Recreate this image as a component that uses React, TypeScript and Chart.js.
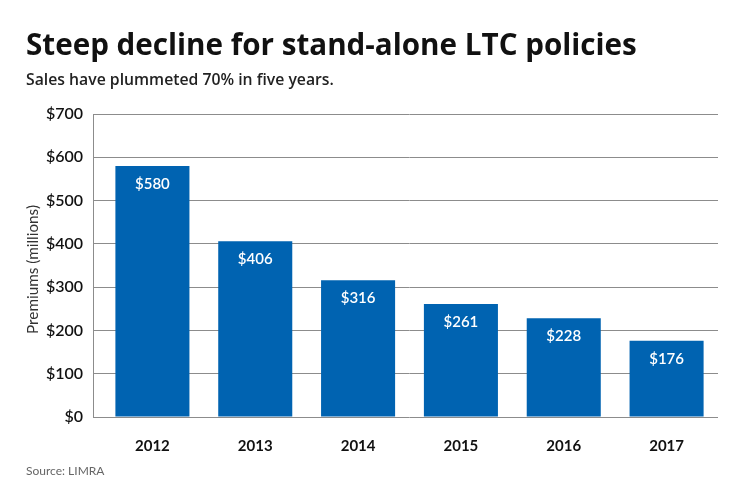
import React, { useEffect, useRef } from "react";
import { Chart, registerables } from "chart.js";

Chart.register(...registerables);

const categories = ["2012", "2013", "2014", "2015", "2016", "2017"];
const premiums = [580, 406, 316, 261, 228, 176];
const yTicks = [0, 100, 200, 300, 400, 500, 600, 700];

const titleText = "Steep decline for stand-alone LTC policies";
const subtitleText = "Sales have plummeted 70% in five years.";
const sourceText = "Source: LIMRA";
const yAxisTitle = "Premiums (millions)";

const FONT = "Lato, 'Open Sans', sans-serif";
const HEAD_FONT = "'Open Sans', Lato, sans-serif";
const BAR_COLOR = "#0063B1";
const GRID_COLOR = "#8c8c8c";

function fitText(ctx: any, text: string, weight: string, family: string, base: number, width: number) {
  ctx.font = `${weight} ${base}px ${family}`;
  const w = ctx.measureText(text).width;
  const size = (base * width) / w;
  ctx.font = `${weight} ${size.toFixed(2)}px ${family}`;
}

const decorPlugin = {
  id: "decor",
  afterDraw(chart: any) {
    const ctx = chart.ctx;
    const area = chart.chartArea;
    ctx.save();
    // left axis line
    ctx.strokeStyle = GRID_COLOR;
    ctx.lineWidth = 1;
    ctx.beginPath();
    ctx.moveTo(area.left - 8 + 0.5, area.top);
    ctx.lineTo(area.left - 8 + 0.5, area.bottom + 0.5);
    ctx.stroke();

    // title
    ctx.fillStyle = "#111";
    ctx.textAlign = "left";
    ctx.textBaseline = "alphabetic";
    fitText(ctx, titleText, "bold", HEAD_FONT, 30, 611);
    ctx.fillText(titleText, 26, 55);
    fitText(ctx, subtitleText, "600", HEAD_FONT, 15, 308);
    ctx.fillStyle = "#222";
    ctx.fillText(subtitleText, 26, 85);
    ctx.font = `12px ${FONT}`;
    ctx.fillStyle = "#666";
    ctx.fillText(sourceText, 26, 475);

    // y axis title
    ctx.save();
    ctx.translate(33, (area.top + area.bottom) / 2 + 4);
    ctx.rotate(-Math.PI / 2);
    ctx.textAlign = "center";
    ctx.textBaseline = "middle";
    fitText(ctx, yAxisTitle, "normal", FONT, 14, 129);
    ctx.fillStyle = "#333";
    ctx.fillText(yAxisTitle, 0, 0);
    ctx.restore();

    // data labels
    const meta = chart.getDatasetMeta(0);
    ctx.font = `600 15px ${FONT}`;
    ctx.fillStyle = "#ffffff";
    ctx.textAlign = "center";
    ctx.textBaseline = "middle";
    meta.data.forEach((bar: any, i: number) => {
      const v = chart.data.datasets[0].data[i];
      ctx.fillText("$" + v, bar.x, bar.y + 18);
    });
    ctx.restore();
  },
};

export default function App() {
  const ref = useRef<HTMLCanvasElement>(null);
  useEffect(() => {
    if (!ref.current) return;
    const chart = new Chart(ref.current, {
      type: "bar",
      data: {
        labels: categories,
        datasets: [
          {
            data: premiums,
            backgroundColor: BAR_COLOR,
            borderWidth: 0,
            barPercentage: 0.72,
            categoryPercentage: 1,
          },
        ],
      },
      options: {
        animation: false,
        responsive: false,
        devicePixelRatio: 1,
        layout: { padding: { top: 114, right: 22, bottom: 45, left: 0 } },
        plugins: {
          legend: { display: false },
          tooltip: { enabled: false },
          title: { display: false },
        },
        scales: {
          x: {
            grid: { display: false },
            border: { display: false },
            ticks: {
              color: "#111",
              font: { family: FONT, size: 15, weight: "bold" },
              padding: 12,
            },
            afterFit: (s: any) => {
              s.height = 40;
            },
          },
          y: {
            min: 0,
            max: 700,
            afterBuildTicks: (s: any) => {
              s.ticks = yTicks.map((v) => ({ value: v }));
            },
            grid: {
              color: GRID_COLOR,
              lineWidth: 1,
              drawTicks: true,
              tickLength: 8,
              tickColor: GRID_COLOR,
            },
            border: { display: false },
            ticks: {
              color: "#111",
              font: { family: FONT, size: 16, weight: "600" },
              padding: 10,
              callback: (v: any) => "$" + v,
            },
            afterFit: (s: any) => {
              s.width = 101;
            },
          },
        },
      },
      plugins: [decorPlugin],
    });
    return () => chart.destroy();
  }, []);
  return (
    <div style={{ position: "fixed", left: 0, top: 0, width: 740, height: 502, background: "#fff" }}>
      <canvas ref={ref} width={740} height={502} style={{ width: 740, height: 502 }} />
    </div>
  );
}
